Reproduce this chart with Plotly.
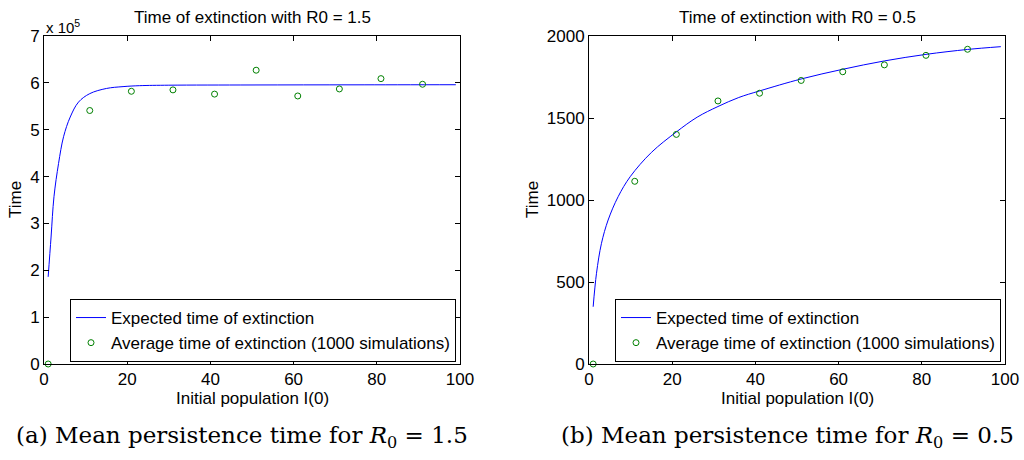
import plotly.graph_objects as go

# ---------------- data ----------------
I0_pts = [1, 11, 21, 31, 41, 51, 61, 71, 81, 91]
avg_R15 = [0, 5.41e5, 5.82e5, 5.85e5, 5.76e5, 6.27e5, 5.72e5, 5.87e5, 6.09e5, 5.97e5]
avg_R05 = [0, 1114, 1400, 1604, 1651, 1729, 1782, 1824, 1882, 1919]

I0_curve_R15 = [1, 1.7, 2.4, 3.5, 4.7, 6.3, 8.3, 11, 15, 19, 23, 30, 50, 75, 99]
exp_R15 = [1.86e5, 2.71e5, 3.57e5, 4.28e5, 4.85e5, 5.27e5, 5.59e5, 5.77e5,
           5.88e5, 5.92e5, 5.94e5, 5.95e5, 5.955e5, 5.958e5, 5.96e5]

I0_curve_R05 = [1, 1.8, 3, 4.6, 7, 9.9, 15, 21, 26, 31, 36, 41, 51,
                61, 71, 81, 91, 99]
exp_R05 = [349, 553, 736, 878, 1020, 1142, 1290, 1415, 1505, 1570, 1625, 1665,
           1738, 1797, 1848, 1888, 1918, 1935]

ytick_R15 = [0, 1e5, 2e5, 3e5, 4e5, 5e5, 6e5, 7e5]
ytick_R15_text = ["0", "1", "2", "3", "4", "5", "6", "7"]
ytick_R05 = [0, 500, 1000, 1500, 2000]
xticks = [0, 20, 40, 60, 80, 100]

titles = ["Time of extinction with R0 = 1.5", "Time of extinction with R0 = 0.5"]
captions = ["(a) Mean persistence time for <i>R</i><sub>0</sub> = 1.5",
            "(b) Mean persistence time for <i>R</i><sub>0</sub> = 0.5"]
legend_names = ["Expected time of extinction",
                "Average time of extinction (1000 simulations)"]

# ---------------- figure ----------------
W, H = 1024, 460
SANS = "Liberation Sans, Arial, sans-serif"
SERIF = "DejaVu Serif, serif"
BLUE = "#0000ff"
GREEN = "#008000"
FS = 17

fig = go.Figure()

fig.add_trace(go.Scatter(x=I0_curve_R15, y=exp_R15, mode="lines",
                         line=dict(color=BLUE, width=1, shape="spline"),
                         name=legend_names[0], xaxis="x", yaxis="y", legend="legend"))
fig.add_trace(go.Scatter(x=I0_pts, y=avg_R15, mode="markers",
                         marker=dict(symbol="circle-open", size=6, color=GREEN,
                                     line=dict(width=1, color=GREEN)),
                         name=legend_names[1], xaxis="x", yaxis="y", legend="legend",
                         cliponaxis=False))
fig.add_trace(go.Scatter(x=I0_curve_R05, y=exp_R05, mode="lines",
                         line=dict(color=BLUE, width=1, shape="spline"),
                         name=legend_names[0], xaxis="x2", yaxis="y2", legend="legend2"))
fig.add_trace(go.Scatter(x=I0_pts, y=avg_R05, mode="markers",
                         marker=dict(symbol="circle-open", size=6, color=GREEN,
                                     line=dict(width=1, color=GREEN)),
                         name=legend_names[1], xaxis="x2", yaxis="y2", legend="legend2",
                         cliponaxis=False))

def px(x):
    return x / W

def py(y):
    return 1 - y / H

L1, R1 = 44, 460
L2, R2 = 589, 1005
TOP, BOT = 36, 364

axis_common = dict(showline=True, linecolor="black", linewidth=1, mirror="ticks",
                   ticks="inside", ticklen=5, tickwidth=1, tickcolor="black",
                   showgrid=False, zeroline=False, automargin=False,
                   tickfont=dict(family=SANS, size=FS, color="black"))

legend_common = dict(xanchor="right", yanchor="bottom",
                     bgcolor="white", bordercolor="black", borderwidth=1,
                     font=dict(family=SANS, size=FS, color="black"),
                     tracegroupgap=0)

fig.update_layout(
    width=W, height=H,
    margin=dict(l=0, r=0, t=0, b=0, pad=0, autoexpand=False),
    paper_bgcolor="white", plot_bgcolor="white",
    showlegend=True,
    xaxis=dict(domain=[px(L1), px(R1)], range=[0, 100], tickvals=xticks,
               anchor="y", **axis_common),
    yaxis=dict(domain=[py(BOT), py(TOP)], range=[0, 7e5], tickvals=ytick_R15,
               ticktext=ytick_R15_text, anchor="x", **axis_common),
    xaxis2=dict(domain=[px(L2), px(R2)], range=[0, 100], tickvals=xticks,
                anchor="y2", **axis_common),
    yaxis2=dict(domain=[py(BOT), py(TOP)], range=[0, 2000], tickvals=ytick_R05,
                anchor="x2", **axis_common),
    legend=dict(x=px(456), y=py(362), **legend_common),
    legend2=dict(x=px(1001), y=py(362), **legend_common),
)

ann = []
for i, (l, r) in enumerate([(L1, R1), (L2, R2)]):
    cx = (l + r) / 2
    ann.append(dict(x=px(cx), y=py(17), xref="paper", yref="paper", text=titles[i],
                    showarrow=False, xanchor="center", yanchor="middle",
                    font=dict(family=SANS, size=FS, color="black")))
    ann.append(dict(x=px(cx), y=py(398), xref="paper", yref="paper",
                    text="Initial population I(0)", showarrow=False,
                    xanchor="center", yanchor="middle",
                    font=dict(family=SANS, size=FS, color="black")))
    ann.append(dict(x=px(242 if i == 0 else 787), y=py(437), xref="paper", yref="paper",
                    text=captions[i], showarrow=False, xanchor="center", yanchor="middle",
                    font=dict(family=SERIF, size=23, color="black")))
ann.append(dict(x=px(16), y=py(200), xref="paper", yref="paper", text="Time",
                textangle=-90, showarrow=False, xanchor="center", yanchor="middle",
                font=dict(family=SANS, size=FS, color="black")))
ann.append(dict(x=px(533), y=py(200), xref="paper", yref="paper", text="Time",
                textangle=-90, showarrow=False, xanchor="center", yanchor="middle",
                font=dict(family=SANS, size=FS, color="black")))
ann.append(dict(x=px(44), y=py(27), xref="paper", yref="paper",
                text="x 10<sup>5</sup>", showarrow=False, xanchor="left",
                yanchor="middle", font=dict(family=SANS, size=15, color="black")))
fig.update_layout(annotations=ann)

fig.write_html("out.html",
               config={"displayModeBar": False},
               post_script="document.body.style.margin='0';document.body.style.padding='0';")
